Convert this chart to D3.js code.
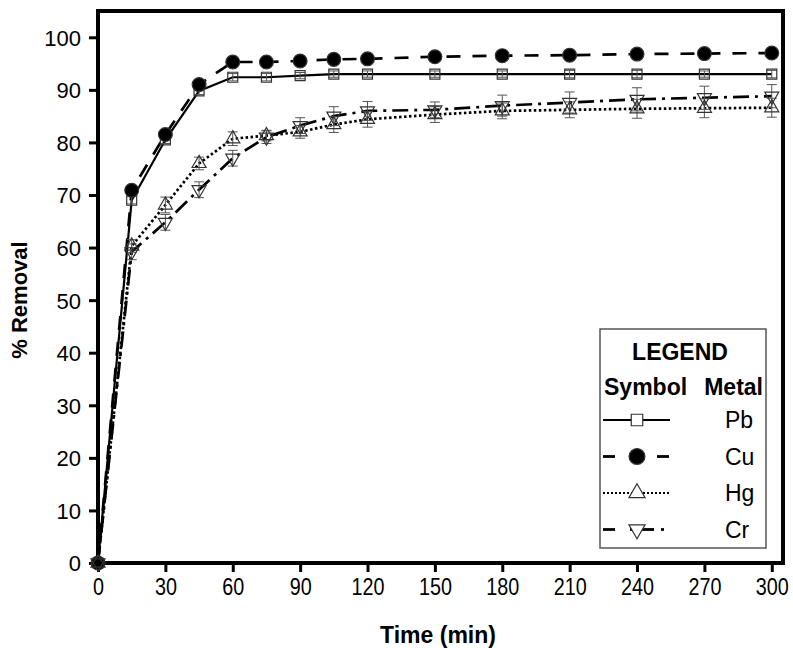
<!DOCTYPE html>
<html>
<head>
<meta charset="utf-8">
<script src="https://cdn.jsdelivr.net/npm/d3@7"></script>
<style>
  html, body { margin: 0; padding: 0; background: #fff; }
  svg { display: block; font-family: "Liberation Sans", Arial, sans-serif; }
</style>
</head>
<body>
<svg id="chart" width="793" height="648"></svg>
<script>
// ---- data ----
const times = [0, 15, 30, 45, 60, 75, 90, 105, 120, 150, 180, 210, 240, 270, 300];
const pbValues = [0, 69.0, 80.5, 89.8, 92.4, 92.4, 92.7, 93.0, 93.0, 93.0, 93.0, 93.0, 93.0, 93.0, 93.0];
const cuValues = [0, 70.9, 81.5, 91.0, 95.3, 95.3, 95.5, 95.8, 95.9, 96.3, 96.5, 96.6, 96.8, 96.9, 97.0];
const hgValues = [0, 60.3, 68.1, 76.0, 80.7, 81.3, 82.0, 83.4, 84.4, 85.3, 86.0, 86.2, 86.4, 86.5, 86.6];
const crValues = [0, 59.2, 64.8, 71.0, 77.0, 81.0, 83.2, 85.0, 86.0, 86.2, 87.0, 87.6, 88.2, 88.5, 88.8];
const pbErrors = [0, 0.7, 0.7, 0.7, 0.7, 0.7, 0.6, 0.6, 0.6, 0.6, 0.6, 0.7, 0.7, 0.6, 0.7];
const cuErrors = [0, 0.6, 0.6, 0.6, 0.5, 0.5, 0.5, 0.5, 0.5, 0.5, 0.5, 0.5, 0.5, 0.5, 0.5];
const hgErrors = [0, 1.2, 1.5, 1.2, 1.3, 1.0, 1.2, 1.5, 1.5, 1.5, 1.5, 1.5, 1.8, 1.8, 1.8];
const crErrors = [0, 1.5, 1.5, 1.5, 1.5, 1.2, 1.5, 1.8, 1.8, 1.5, 2.0, 2.0, 2.2, 2.2, 2.2];
const xTicks = [0, 30, 60, 90, 120, 150, 180, 210, 240, 270, 300];
const yTicks = [0, 10, 20, 30, 40, 50, 60, 70, 80, 90, 100];
const metals = ["Pb", "Cu", "Hg", "Cr"];

const series = [
  { name: "Pb", values: pbValues, errors: pbErrors, dash: null, symbol: "square", fill: "#fff" },
  { name: "Cu", values: cuValues, errors: cuErrors, dash: "14,12", symbol: "circle", fill: "#000" },
  { name: "Hg", values: hgValues, errors: hgErrors, dash: "2.5,2.5", symbol: "triUp", fill: "#fff" },
  { name: "Cr", values: crValues, errors: crErrors, dash: "16,6,3,6", symbol: "triDown", fill: "#fff" }
];

// ---- layout ----
const svg = d3.select("#chart");
const L = 98, R = 783, T = 11, B = 563;
const x = d3.scaleLinear().domain([0, 305]).range([L, R]);
const y = d3.scaleLinear().domain([0, 105]).range([B, T]);

svg.append("rect").attr("width", 793).attr("height", 648).attr("fill", "#fff");

// axes
const xAxis = svg.append("g").attr("transform", `translate(0,${B})`)
  .call(d3.axisBottom(x).tickValues(xTicks).tickSize(9).tickPadding(5).tickFormat(d3.format("d")));
const yAxis = svg.append("g").attr("transform", `translate(${L},0)`)
  .call(d3.axisLeft(y).tickValues(yTicks).tickSize(9).tickPadding(8).tickFormat(d3.format("d")));
[xAxis, yAxis].forEach(g => {
  g.select(".domain").remove();
  g.selectAll(".tick line").attr("stroke", "#000").attr("stroke-width", 3);
  g.selectAll(".tick text").attr("fill", "#000")
    .style("font-family", "'Liberation Sans', Arial, sans-serif");
});
yAxis.selectAll(".tick text").style("font-size", "22px").attr("dy", "0.36em");
// x labels are slightly condensed in the reference
xAxis.selectAll(".tick text").style("font-size", "23px").attr("dy", "0.8em")
  .attr("transform", "scale(0.86,1)")
  .attr("x", 0);
xAxis.selectAll(".tick").each(function(d) {
  d3.select(this).select("text").attr("transform", null)
    .attr("textLength", null);
});
xAxis.selectAll(".tick text").each(function() {
  const t = d3.select(this);
  t.attr("transform", "scale(0.86,1)");
});

// frame
svg.append("rect").attr("x", L).attr("y", T).attr("width", R - L).attr("height", B - T)
  .attr("fill", "none").attr("stroke", "#000").attr("stroke-width", 4);

// titles
svg.append("text").attr("x", 438).attr("y", 643).attr("text-anchor", "middle")
  .style("font-size", "23px").style("font-weight", "bold").text("Time (min)");
svg.append("text").attr("transform", `translate(27,300) rotate(-90)`).attr("text-anchor", "middle")
  .style("font-size", "22px").style("font-weight", "bold").text("% Removal");

// symbols
function symbolPath(kind, scale) {
  const s = scale || 1;
  if (kind === "square") return d3.symbol(d3.symbolSquare, 100 * s * s)();
  if (kind === "circle") return d3.symbol(d3.symbolCircle, 150 * s * s)();
  return d3.symbol(d3.symbolTriangle, 85 * s * s)();
}

const lineGen = d3.line().x((d, i) => x(times[i])).y(d => y(d));
const plot = svg.append("g");

series.forEach(s => {
  const p = plot.append("path").datum(s.values).attr("d", lineGen)
    .attr("fill", "none").attr("stroke", "#000")
    .attr("stroke-width", s.name === "Pb" ? 2.2 : 2.7);
  if (s.dash) p.attr("stroke-dasharray", s.dash);
});

// error bars
series.forEach(s => {
  const g = plot.append("g");
  s.values.forEach((v, i) => {
    if (!s.errors[i]) return;
    const cx = x(times[i]);
    g.append("line").attr("x1", cx).attr("x2", cx)
      .attr("y1", y(v - s.errors[i])).attr("y2", y(v + s.errors[i]))
      .attr("stroke", "#555").attr("stroke-width", 1);
    [v - s.errors[i], v + s.errors[i]].forEach(e => {
      g.append("line").attr("x1", cx - 5).attr("x2", cx + 5)
        .attr("y1", y(e)).attr("y2", y(e)).attr("stroke", "#555").attr("stroke-width", 1);
    });
  });
});

// markers
series.forEach(s => {
  plot.append("g").selectAll("path").data(s.values).join("path")
    .attr("d", symbolPath(s.symbol))
    .attr("transform", (d, i) => `translate(${x(times[i])},${y(d)})${s.symbol === "triDown" ? " rotate(180)" : ""}`)
    .attr("fill", s.fill === "#000" ? "#000" : "none")
    .attr("stroke", "#333").attr("stroke-width", 1.2);
});

// legend
const lg = svg.append("g");
lg.append("rect").attr("x", 600).attr("y", 329).attr("width", 166).attr("height", 219)
  .attr("fill", "#fff").attr("stroke", "#555").attr("stroke-width", 1.5);
lg.append("text").attr("x", 680).attr("y", 360).attr("text-anchor", "middle")
  .style("font-size", "23px").style("font-weight", "bold").text("LEGEND");
lg.append("text").attr("x", 604).attr("y", 395)
  .style("font-size", "23px").style("font-weight", "bold").text("Symbol");
lg.append("text").attr("x", 763).attr("y", 395).attr("text-anchor", "end")
  .style("font-size", "23px").style("font-weight", "bold").text("Metal");
const legendRows = [420, 456.5, 493, 529.5];
const legendSegs = {
  Pb: [[603, 670]],
  Cu: [[603, 615], [657, 669]],
  Hg: [[603, 670]],
  Cr: [[603, 615], [630, 654], [661, 664]]
};
series.forEach((s, k) => {
  const cy = legendRows[k];
  legendSegs[s.name].forEach(seg => {
    const ln = lg.append("line").attr("x1", seg[0]).attr("x2", seg[1]).attr("y1", cy).attr("y2", cy)
      .attr("stroke", "#000").attr("stroke-width", s.name === "Pb" || s.name === "Hg" ? 2 : 2.8);
    if (s.name === "Hg") ln.attr("stroke-dasharray", "2,2");
  });
  lg.append("path").attr("d", symbolPath(s.symbol, 1.15))
    .attr("transform", `translate(637,${cy})${s.symbol === "triDown" ? " rotate(180)" : ""}`)
    .attr("fill", s.fill).attr("stroke", "#333").attr("stroke-width", 1.2);
  lg.append("text").attr("x", 725).attr("y", cy).attr("dy", "0.36em")
    .style("font-size", "23px").text(metals[k]);
});
</script>
</body>
</html>
